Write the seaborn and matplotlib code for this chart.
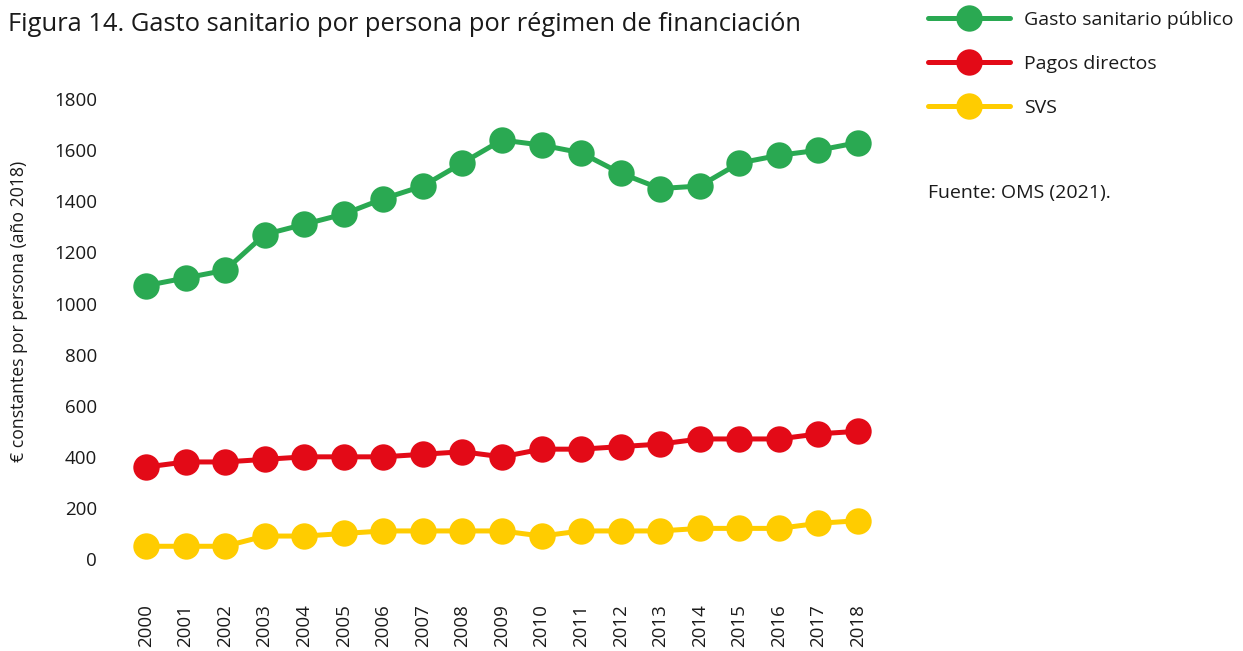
import numpy as np
import pandas as pd
import matplotlib
matplotlib.use("Agg")
import matplotlib.pyplot as plt
import seaborn as sns
from matplotlib.lines import Line2D


# DATA

years = list(range(2000, 2019))

gasto_publico = [1070, 1100, 1130, 1270, 1310, 1350, 1410, 1460, 1550, 1640,
                 1620, 1590, 1510, 1450, 1460, 1550, 1580, 1600, 1630]
pagos_directos = [360, 380, 380, 390, 400, 400, 400, 410, 420, 400,
                  430, 430, 440, 450, 470, 470, 470, 490, 500]
svs = [50, 50, 50, 90, 90, 100, 110, 110, 110, 110,
       90, 110, 110, 110, 120, 120, 120, 140, 150]

series_names = ["Gasto sanitario público", "Pagos directos", "SVS"]
series_colors = ["#2AA952", "#E30A17", "#FFCC00"]
y_ticks = list(range(0, 2000, 200))

df = pd.DataFrame({
    "year": years * 3,
    "value": gasto_publico + pagos_directos + svs,
    "serie": [series_names[0]] * len(years)
             + [series_names[1]] * len(years)
             + [series_names[2]] * len(years),
})


# STYLE

sns.set_style("white")
plt.rcParams["font.family"] = ["Open Sans", "DejaVu Sans"]
TEXT = "#1a1a1a"


# PLOT

fig = plt.figure(figsize=(12.43, 6.51), dpi=100)
ax = fig.add_axes([0.1015, 0.102, 0.6047, 0.785])

palette = dict(zip(series_names, series_colors))

sns.lineplot(
    data=df,
    x="year",
    y="value",
    hue="serie",
    hue_order=series_names,
    palette=palette,
    marker="o",
    markersize=19,
    markeredgewidth=0,
    linewidth=3.6,
    legend=False,
    ax=ax,
)

ax.set_xlim(1999.5, 2018.5)
ax.set_ylim(-100, 1900)
ax.set_xticks(years)
ax.set_xticklabels([str(y) for y in years], rotation=90, fontsize=13.5, color=TEXT)
ax.set_yticks(y_ticks)
ax.set_yticklabels([str(v) for v in y_ticks], fontsize=13.5, color=TEXT)
ax.tick_params(axis="both", length=0)
ax.tick_params(axis="y", pad=21)
ax.tick_params(axis="x", pad=14)

ax.set_xlabel("")
ax.set_ylabel("€ constantes por persona (año 2018)", fontsize=12.7, color=TEXT)
ax.yaxis.set_label_coords(-0.131, 0.535)

sns.despine(ax=ax, left=True, bottom=True)

fig.text(0.0065, 0.962, "Figura 14. Gasto sanitario por persona por régimen de financiación",
         fontsize=18.4, color=TEXT, ha="left", va="center")

handles = [
    Line2D([0], [0], color=c, linewidth=3.6, marker="o", markersize=19, markeredgewidth=0)
    for c in series_colors
]
fig.legend(
    handles,
    series_names,
    loc="upper left",
    bbox_to_anchor=(0.7328, 1.010),
    frameon=False,
    fontsize=14,
    handlelength=4.2,
    handletextpad=0.72,
    labelspacing=1.34,
    labelcolor=TEXT,
)

fig.text(0.7466, 0.7035, "Fuente: OMS (2021).", fontsize=14, color=TEXT, ha="left", va="center")

fig.savefig("out.png", dpi=100)
plt.close(fig)
